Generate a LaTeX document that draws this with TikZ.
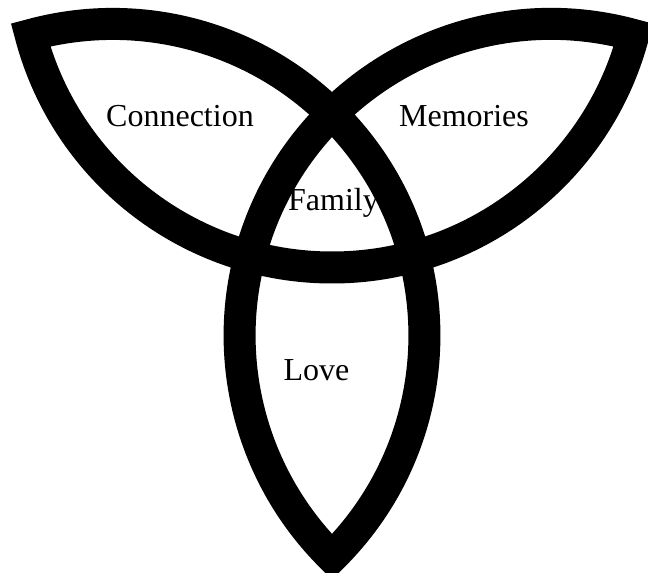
\documentclass[tikz,border=0pt]{standalone}
\usepackage{fontspec}
\setmainfont{Liberation Serif}
\usepackage{tikz}

\begin{document}
\begin{tikzpicture}[
    x=1pt, y=1pt,
    knot/.style={draw=black, line width=32pt, line join=miter},
    word/.style={font=\fontsize{32}{38}\selectfont, anchor=base, inner sep=0pt}
]
\useasboundingbox (0,0) rectangle (648,573);

% three arcs, radius 311.6, centres 253.1 away from (332,364)
\coordinate (low) at (332,305.5);
\draw[knot] (low) arc[start angle=270, end angle=345.3, radius=311.6]
    arc[start angle=74.7, end angle=225.3, radius=311.6]
    arc[start angle=-45.3, end angle=105.3, radius=311.6]
    arc[start angle=194.7, end angle=270, radius=311.6];

\node[word] (conn) at (180,446) {Connection};
\node[word] (mem) at (464,446) {Memories};
\node[word] (fam) at (333.5,362) {Family};
\node[word] (love) at (316.5,192) {Love};

\end{tikzpicture}
\end{document}
